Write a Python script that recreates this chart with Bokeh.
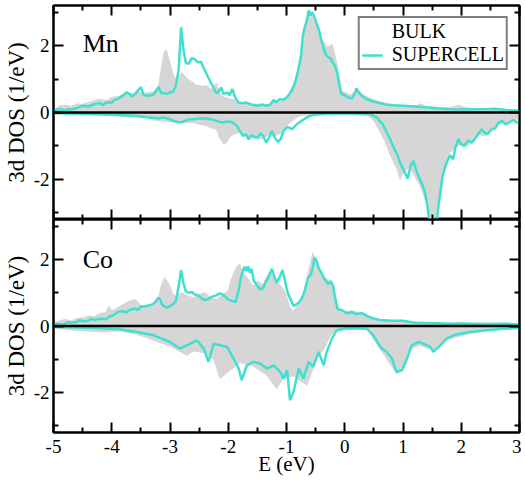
from bokeh.plotting import figure
from bokeh.models import (FixedTicker, LinearAxis, Span, Label, Legend, LegendItem, Range1d,
                          CustomLabelingPolicy)
from bokeh.layouts import column
from bokeh.embed import file_html
from bokeh.resources import INLINE

# ---------------- data ----------------
x_ticks = [-5, -4, -3, -2, -1, 0, 1, 2, 3]
x_minor = [-4.5, -3.5, -2.5, -1.5, -0.5, 0.5, 1.5, 2.5]
y_ticks = [-2, 0, 2]
y_minor = [-3, -1, 1, 3]
x_tick_labels = {-5: "-5", -4: "-4", -3: "-3", -2: "-2", -1: "-1", 0: "0", 1: "1", 2: "2", 3: "3"}
y_tick_labels = {-2: "-2", 0: "0", 2: "2"}

# Mn, BULK spin up
mn_bulk_up_e = [-5.00, -4.90, -4.80, -4.70, -4.60, -4.50, -4.40, -4.30, -4.20, -4.10, -4.00, -3.90, -3.80, -3.75, -3.70,
                -3.60, -3.50, -3.40, -3.30, -3.20, -3.15, -3.10, -3.06, -3.02, -2.98, -2.94, -2.90, -2.85, -2.80, -2.75,
                -2.70, -2.65, -2.60, -2.55, -2.50, -2.45, -2.40, -2.35, -2.30, -2.25, -2.20, -2.15, -2.10, -2.00, -1.90,
                -1.80, -1.70, -1.60, -1.50, -1.40, -1.30, -1.20, -1.10, -1.00, -0.95, -0.90, -0.85, -0.80, -0.75, -0.70,
                -0.65, -0.60, -0.55, -0.50, -0.45, -0.40, -0.35, -0.30, -0.25, -0.22, -0.18, -0.14, -0.10, -0.05, 0.00,
                0.10, 0.20, 0.30, 0.40, 0.50, 0.60, 0.70, 0.80, 0.90, 1.00, 1.10, 1.20, 1.30, 1.40, 1.60, 1.80, 1.95,
                2.05, 2.20, 2.40, 2.60, 2.80, 3.00]
mn_bulk_up = [0.05, 0.20, 0.22, 0.18, 0.25, 0.25, 0.30, 0.35, 0.40, 0.35, 0.45, 0.48, 0.50, 0.62, 0.55,
              0.58, 0.60, 0.58, 0.62, 0.75, 1.30, 1.80, 1.87, 1.60, 1.35, 1.10, 1.00, 1.05, 1.20, 1.10,
              1.00, 0.95, 0.90, 0.80, 0.82, 0.78, 0.80, 0.78, 0.68, 0.80, 0.87, 0.60, 0.48, 0.42, 0.38,
              0.30, 0.28, 0.25, 0.25, 0.24, 0.25, 0.30, 0.35, 0.42, 0.60, 0.78, 1.00, 1.35, 1.80, 2.30,
              2.70, 2.95, 2.85, 2.70, 2.45, 2.20, 2.10, 1.95, 2.00, 2.05, 1.80, 1.50, 1.10, 0.65, 0.60,
              0.52, 0.70, 0.55, 0.45, 0.38, 0.32, 0.28, 0.25, 0.22, 0.20, 0.20, 0.18, 0.26, 0.18, 0.16, 0.14, 0.22,
              0.16, 0.12, 0.10, 0.12, 0.10, 0.08]

# Mn, BULK spin down
mn_bulk_dn_e = [-5.00, -4.50, -4.00, -3.60, -3.40, -3.30, -3.20, -3.00, -2.80, -2.60, -2.50, -2.40, -2.30, -2.20, -2.15,
                -2.10, -2.05, -2.00, -1.95, -1.90, -1.80, -1.70, -1.60, -1.50, -1.40, -1.30, -1.20, -1.10, -1.00, -0.90,
                -0.80, -0.70, -0.50, 0.00, 0.40, 0.50, 0.60, 0.70, 0.80, 0.90, 0.95, 1.00, 1.10, 1.15, 1.20,
                1.30, 1.40, 1.45, 1.50, 1.55, 1.60, 1.65, 1.70, 1.80, 1.90, 2.00, 2.10, 2.20, 2.30, 2.40,
                2.50, 2.60, 2.70, 2.80, 2.90, 3.00]
mn_bulk_dn = [-0.03, -0.05, -0.08, -0.12, -0.15, -0.22, -0.25, -0.28, -0.30, -0.30, -0.35, -0.38, -0.45, -0.50, -0.75,
              -0.90, -0.95, -0.80, -0.70, -0.65, -0.60, -0.68, -0.75, -0.80, -0.78, -0.65, -0.70, -0.62, -0.40, -0.25,
              -0.12, -0.08, -0.05, -0.03, -0.10, -0.25, -0.55, -0.90, -1.35, -1.70, -2.00, -1.80, -1.65, -1.75, -1.90,
              -2.20, -2.70, -3.10, -3.30, -3.10, -2.60, -2.10, -1.75, -1.20, -1.05, -0.95, -1.00, -0.85, -0.65, -0.70,
              -0.55, -0.40, -0.32, -0.28, -0.22, -0.18]

# Mn, SUPERCELL spin up
mn_sc_up_e = [-5.00, -4.90, -4.80, -4.75, -4.70, -4.60, -4.50, -4.40, -4.30, -4.20, -4.15, -4.10, -4.00, -3.95, -3.90,
              -3.80, -3.75, -3.70, -3.65, -3.60, -3.50, -3.45, -3.40, -3.30, -3.25, -3.20, -3.15, -3.05, -3.00, -2.95,
              -2.90, -2.85, -2.81, -2.77, -2.73, -2.68, -2.63, -2.58, -2.52, -2.47, -2.40, -2.33, -2.27, -2.22, -2.18,
              -2.12, -2.08, -2.02, -1.98, -1.93, -1.88, -1.83, -1.75, -1.70, -1.60, -1.50, -1.42, -1.35, -1.28, -1.22,
              -1.18, -1.12, -1.05, -1.00, -0.95, -0.90, -0.85, -0.80, -0.75, -0.72, -0.68, -0.65, -0.62, -0.59, -0.56,
              -0.52, -0.48, -0.44, -0.40, -0.36, -0.32, -0.28, -0.24, -0.20, -0.17, -0.13, -0.09, -0.06, 0.00, 0.06,
              0.12, 0.17, 0.20, 0.25, 0.30, 0.40, 0.50, 0.60, 0.70, 0.80, 0.90, 1.00, 1.20, 1.40, 1.60,
              1.80, 2.00, 2.20, 2.40, 2.60, 2.80, 3.00]
mn_sc_up = [0.07, 0.10, 0.06, 0.10, 0.09, 0.13, 0.20, 0.18, 0.25, 0.28, 0.22, 0.30, 0.30, 0.38, 0.40,
            0.52, 0.60, 0.56, 0.48, 0.55, 0.76, 0.52, 0.50, 0.52, 0.60, 0.76, 0.58, 0.56, 0.60, 0.62,
            0.80, 1.30, 2.55, 1.90, 1.50, 1.45, 1.62, 1.60, 1.50, 1.52, 1.25, 1.00, 0.80, 0.62, 0.58,
            0.75, 0.55, 0.60, 0.52, 0.70, 0.45, 0.30, 0.28, 0.30, 0.24, 0.20, 0.24, 0.20, 0.23, 0.38,
            0.30, 0.40, 0.38, 0.45, 0.55, 0.68, 0.90, 1.25, 1.70, 2.30, 2.60, 2.75, 3.05, 2.90, 3.00,
            2.85, 2.65, 2.45, 2.15, 1.90, 1.72, 1.65, 1.62, 1.48, 1.40, 1.18, 0.80, 0.56, 0.52, 0.45,
            0.42, 0.55, 0.72, 0.58, 0.48, 0.38, 0.32, 0.28, 0.24, 0.22, 0.21, 0.20, 0.18, 0.15, 0.12,
            0.10, 0.09, 0.10, 0.10, 0.11, 0.06, 0.06]

# Mn, SUPERCELL spin down
mn_sc_dn_e = [-5.00, -4.50, -4.00, -3.60, -3.40, -3.20, -3.10, -3.00, -2.95, -2.88, -2.80, -2.75, -2.70, -2.60, -2.50,
              -2.40, -2.30, -2.25, -2.15, -2.10, -2.00, -1.95, -1.90, -1.85, -1.80, -1.75, -1.70, -1.65, -1.60, -1.55,
              -1.50, -1.45, -1.40, -1.35, -1.30, -1.25, -1.20, -1.15, -1.10, -1.05, -1.00, -0.95, -0.90, -0.85, -0.80,
              -0.70, -0.60, -0.50, -0.30, 0.00, 0.30, 0.45, 0.55, 0.65, 0.72, 0.78, 0.84, 0.90, 0.96, 1.02,
              1.08, 1.13, 1.18, 1.24, 1.29, 1.34, 1.38, 1.42, 1.46, 1.52, 1.57, 1.60, 1.64, 1.68, 1.72,
              1.76, 1.81, 1.86, 1.90, 1.95, 2.00, 2.05, 2.12, 2.18, 2.24, 2.30, 2.35, 2.40, 2.45, 2.52,
              2.58, 2.64, 2.70, 2.76, 2.82, 2.90, 2.95, 3.00]
mn_sc_dn = [-0.02, -0.04, -0.07, -0.10, -0.14, -0.17, -0.15, -0.20, -0.24, -0.28, -0.30, -0.25, -0.22, -0.20, -0.18,
            -0.17, -0.20, -0.22, -0.28, -0.30, -0.27, -0.28, -0.33, -0.40, -0.55, -0.70, -0.65, -0.80, -0.68, -0.72,
            -0.75, -0.62, -0.70, -0.90, -0.75, -0.55, -0.75, -0.88, -0.80, -0.55, -0.45, -0.45, -0.50, -0.40, -0.32,
            -0.20, -0.10, -0.06, -0.03, -0.02, -0.03, -0.06, -0.15, -0.35, -0.60, -0.80, -1.05, -1.25, -1.55, -1.75,
            -1.98, -1.60, -1.45, -1.80, -2.00, -2.20, -2.40, -2.80, -3.40, -3.60, -3.40, -2.90, -2.40, -1.90, -1.65,
            -1.45, -1.28, -1.40, -1.05, -0.80, -0.95, -1.00, -0.83, -0.90, -0.78, -0.62, -0.50, -0.60, -0.65, -0.50,
            -0.48, -0.30, -0.25, -0.35, -0.30, -0.22, -0.30, -0.28]

# Co, BULK spin up
co_bulk_up_e = [-5.00, -4.90, -4.80, -4.70, -4.60, -4.50, -4.40, -4.30, -4.20, -4.10, -4.05, -4.00, -3.90, -3.80, -3.70,
                -3.60, -3.50, -3.40, -3.30, -3.20, -3.15, -3.10, -3.05, -3.00, -2.95, -2.90, -2.80, -2.70, -2.60, -2.50,
                -2.40, -2.30, -2.20, -2.10, -2.00, -1.95, -1.90, -1.85, -1.80, -1.75, -1.70, -1.65, -1.60, -1.55, -1.50,
                -1.45, -1.40, -1.35, -1.30, -1.25, -1.20, -1.15, -1.10, -1.05, -1.00, -0.95, -0.90, -0.85, -0.80, -0.75,
                -0.70, -0.65, -0.60, -0.55, -0.50, -0.45, -0.40, -0.35, -0.30, -0.25, -0.20, -0.15, -0.10, 0.00, 0.10,
                0.20, 0.30, 0.40, 0.50, 0.60, 0.80, 1.00, 1.20, 1.40, 1.60, 1.80, 2.00, 2.20, 2.50, 2.80, 3.00]
co_bulk_up = [0.05, 0.15, 0.20, 0.15, 0.22, 0.25, 0.30, 0.28, 0.38, 0.40, 0.60, 0.45, 0.55, 0.65, 0.75,
              0.80, 0.62, 0.55, 0.60, 0.85, 1.20, 1.45, 1.35, 1.20, 0.95, 0.90, 1.00, 0.90, 0.85, 0.95,
              1.00, 0.85, 0.80, 0.95, 1.05, 1.40, 1.60, 1.80, 1.85, 1.60, 1.50, 1.40, 1.25, 1.20, 1.35,
              1.30, 1.25, 1.45, 1.60, 1.55, 1.40, 1.30, 1.20, 1.10, 0.90, 0.60, 0.45, 0.50, 0.65, 0.85,
              1.05, 1.40, 1.80, 2.20, 2.00, 1.75, 1.55, 1.45, 1.40, 1.30, 1.20, 0.80, 0.50, 0.45, 0.45,
              0.42, 0.40, 0.32, 0.25, 0.20, 0.15, 0.13, 0.12, 0.10, 0.10, 0.08, 0.12, 0.08, 0.07, 0.06, 0.04]

# Co, BULK spin down
co_bulk_dn_e = [-5.00, -4.71, -4.43, -4.14, -3.86, -3.57, -3.28, -3.00, -2.71, -2.60, -2.42, -2.25, -2.14, -2.02, -1.80,
                -1.57, -1.34, -1.17, -1.05, -0.88, -0.65, -0.48, -0.36, -0.25, -0.14, 0.04, 0.38, 0.49, 0.72, 0.89,
                1.01, 1.12, 1.29, 1.52, 1.75, 2.15, 2.44, 3.00]
co_bulk_dn = [-0.05, -0.12, -0.15, -0.18, -0.15, -0.25, -0.43, -0.60, -0.88, -0.75, -0.80, -1.00, -1.58, -1.40, -1.10,
              -1.20, -1.48, -1.88, -1.55, -1.50, -1.78, -0.98, -0.70, -0.30, -0.10, -0.07, -0.08, -0.38, -0.98, -1.43,
              -1.30, -0.70, -0.58, -0.73, -0.40, -0.23, -0.13, -0.06]

# Co, SUPERCELL spin up
co_sc_up_e = [-5.00, -4.95, -4.90, -4.80, -4.75, -4.70, -4.60, -4.55, -4.50, -4.40, -4.35, -4.30, -4.20, -4.10, -4.05,
              -4.00, -3.95, -3.90, -3.80, -3.75, -3.70, -3.60, -3.55, -3.50, -3.40, -3.30, -3.25, -3.20, -3.17, -3.13,
              -3.05, -3.00, -2.95, -2.90, -2.85, -2.81, -2.77, -2.73, -2.68, -2.62, -2.58, -2.52, -2.45, -2.40, -2.35,
              -2.28, -2.20, -2.15, -2.10, -2.05, -2.00, -1.93, -1.87, -1.82, -1.77, -1.72, -1.69, -1.66, -1.63, -1.60,
              -1.56, -1.50, -1.45, -1.40, -1.35, -1.30, -1.25, -1.21, -1.17, -1.12, -1.07, -1.03, -0.98, -0.93, -0.88,
              -0.83, -0.78, -0.73, -0.68, -0.63, -0.58, -0.55, -0.52, -0.48, -0.45, -0.40, -0.36, -0.32, -0.28, -0.24,
              -0.20, -0.16, -0.12, -0.05, 0.00, 0.05, 0.12, 0.20, 0.30, 0.40, 0.50, 0.60, 0.80, 1.00, 1.20,
              1.40, 1.60, 1.80, 2.00, 2.50, 2.80, 3.00]
co_sc_up = [0.05, 0.08, 0.05, 0.06, 0.12, 0.10, 0.12, 0.18, 0.14, 0.16, 0.22, 0.18, 0.22, 0.20, 0.28,
            0.30, 0.35, 0.42, 0.45, 0.40, 0.48, 0.52, 0.48, 0.58, 0.60, 0.65, 0.72, 0.85, 0.80, 0.62,
            0.55, 0.60, 0.65, 0.75, 1.20, 1.68, 1.30, 1.05, 1.00, 1.02, 0.95, 0.92, 0.82, 0.78, 0.80,
            0.88, 0.92, 0.98, 0.95, 0.88, 0.80, 0.75, 0.72, 1.10, 1.55, 1.78, 1.65, 1.80, 1.60, 1.72,
            1.35, 1.20, 1.10, 1.15, 1.35, 1.50, 1.72, 1.50, 1.30, 1.45, 1.68, 1.40, 1.00, 0.80, 0.60,
            0.65, 0.72, 0.85, 1.10, 1.45, 1.55, 1.75, 2.05, 1.95, 1.75, 1.60, 1.45, 1.35, 1.25, 1.35,
            1.20, 0.80, 0.50, 0.48, 0.42, 0.38, 0.42, 0.36, 0.38, 0.28, 0.22, 0.18, 0.16, 0.16, 0.10,
            0.09, 0.08, 0.07, 0.07, 0.06, 0.07, 0.04]

# Co, SUPERCELL spin down
co_sc_dn_e = [-5.00, -4.43, -3.86, -3.57, -3.28, -3.00, -2.83, -2.65, -2.54, -2.42, -2.34, -2.25, -2.14, -2.02, -1.91,
              -1.82, -1.77, -1.68, -1.57, -1.45, -1.34, -1.22, -1.11, -1.05, -0.99, -0.94, -0.88, -0.79, -0.71, -0.62,
              -0.54, -0.45, -0.36, -0.31, -0.22, -0.14, 0.04, 0.38, 0.49, 0.61, 0.72, 0.81, 0.89, 0.98, 1.07,
              1.15, 1.27, 1.35, 1.47, 1.52, 1.64, 1.75, 1.87, 1.98, 2.15, 2.44, 2.73, 3.00]
co_sc_dn = [-0.03, -0.05, -0.10, -0.18, -0.28, -0.48, -0.68, -0.53, -0.43, -0.68, -1.08, -0.53, -0.58, -0.63, -0.98,
            -1.28, -1.63, -1.18, -1.08, -1.13, -1.28, -1.18, -1.38, -1.58, -1.33, -2.23, -1.98, -1.28, -1.58, -1.08,
            -1.23, -0.78, -1.18, -0.78, -0.38, -0.13, -0.07, -0.08, -0.28, -0.63, -0.78, -0.98, -1.38, -1.33, -0.98,
            -0.58, -0.48, -0.53, -0.63, -0.78, -0.58, -0.38, -0.28, -0.23, -0.18, -0.13, -0.08, -0.06]

# ---------------- style ----------------
FONT = "Liberation Serif"
GRAY = "#d6d6d6"
TURQ = "#40e0d0"
NO_LABELS = CustomLabelingPolicy(code="return []")


def style_axis(ax, ticks, minor, show_labels, overrides=None):
    ax.ticker = FixedTicker(ticks=ticks, minor_ticks=minor)
    ax.major_tick_in = 10
    ax.major_tick_out = 0
    ax.minor_tick_in = 5
    ax.minor_tick_out = 0
    ax.major_tick_line_width = 2
    ax.minor_tick_line_width = 2
    ax.major_tick_line_color = "black"
    ax.minor_tick_line_color = "black"
    ax.axis_line_width = 2
    ax.axis_line_color = "black"
    ax.major_label_text_font = FONT
    ax.major_label_text_color = "black"
    ax.axis_label_text_font = FONT
    ax.axis_label_text_font_style = "normal"
    ax.axis_label_text_color = "black"
    if overrides:
        ax.major_label_overrides = overrides
    if not show_labels:
        ax.major_label_text_font_size = "0px"
        ax.major_label_standoff = 0
        ax.major_label_policy = NO_LABELS
        ax.axis_label = None


def make_panel(name, bulk_up_e, bulk_up, bulk_dn_e, bulk_dn, sc_up_e, sc_up, sc_dn_e, sc_dn,
               fh, bottom, legend, label_y):
    p = figure(frame_width=466, frame_height=fh,
               x_range=Range1d(-5, 3), y_range=Range1d(-3.2, 3.2),
               output_backend="svg", toolbar_location=None,
               min_border_left=52, min_border_right=2,
               min_border_top=5 if not bottom else 0, min_border_bottom=0,
               background_fill_color="white", border_fill_color="white")
    p.xgrid.visible = False
    p.ygrid.visible = False
    p.outline_line_color = "black"
    p.outline_line_width = 2

    p.varea(x=bulk_up_e, y1=0, y2=bulk_up, fill_color=GRAY)
    p.varea(x=bulk_dn_e, y1=0, y2=bulk_dn, fill_color=GRAY)
    p.line(bulk_up_e, bulk_up, line_color=GRAY, line_width=1)
    p.line(bulk_dn_e, bulk_dn, line_color=GRAY, line_width=1)
    sc_line = p.line(sc_up_e, sc_up, line_color=TURQ, line_width=2.5)
    p.line(sc_dn_e, sc_dn, line_color=TURQ, line_width=2.5)

    p.add_layout(Span(location=0, dimension="width", line_color="black", line_width=2.5))

    # axes
    yax = p.yaxis[0]
    style_axis(yax, y_ticks, y_minor, True, y_tick_labels)
    yax.axis_label = "3d DOS (1/eV)"
    yax.axis_label_text_font_size = "23px"
    yax.major_label_text_font_size = "19px"
    yax.major_label_standoff = 4
    yax.axis_label_standoff = 2

    xax = p.xaxis[0]
    style_axis(xax, x_ticks, x_minor, bottom, x_tick_labels)
    if bottom:
        xax.axis_label = "E (eV)"
        xax.axis_label_text_font_size = "21px"
        xax.major_label_text_font_size = "19px"
        xax.major_label_standoff = 7
        xax.axis_label_standoff = -4

    top_ax = LinearAxis()
    style_axis(top_ax, x_ticks, x_minor, False)
    p.add_layout(top_ax, "above")
    right_ax = LinearAxis()
    style_axis(right_ax, y_ticks, y_minor, False)
    p.add_layout(right_ax, "right")

    p.add_layout(Label(x=-4.5, y=label_y, text=name, text_font=FONT, text_font_size="26px",
                       text_color="black", text_baseline="alphabetic", text_align="left"))

    if legend:
        proxy = p.line(x=[], y=[], line_color=GRAY, line_width=3)
        lg = Legend(items=[LegendItem(label="BULK", renderers=[proxy]),
                           LegendItem(label="SUPERCELL", renderers=[sc_line])],
                    location="top_right")
        lg.border_line_color = "black"
        lg.border_line_width = 2
        lg.label_text_font = FONT
        lg.label_text_font_size = "20px"
        lg.label_text_line_height = 0.9
        lg.label_text_color = "black"
        lg.glyph_width = 21
        lg.glyph_height = 16
        lg.label_height = 16
        lg.label_standoff = 9
        lg.spacing = 0
        lg.padding = 2
        lg.margin = 11
        lg.background_fill_alpha = 1
        p.add_layout(lg)
    return p


p1 = make_panel("Mn", mn_bulk_up_e, mn_bulk_up, mn_bulk_dn_e, mn_bulk_dn,
                mn_sc_up_e, mn_sc_up, mn_sc_dn_e, mn_sc_dn,
                214, False, True, 2.05)
p2 = make_panel("Co", co_bulk_up_e, co_bulk_up, co_bulk_dn_e, co_bulk_dn,
                co_sc_up_e, co_sc_up, co_sc_dn_e, co_sc_dn,
                213, True, False, 2.0)

layout = column(p1, p2, spacing=0)
open("out.html", "w").write(file_html(layout, INLINE))
